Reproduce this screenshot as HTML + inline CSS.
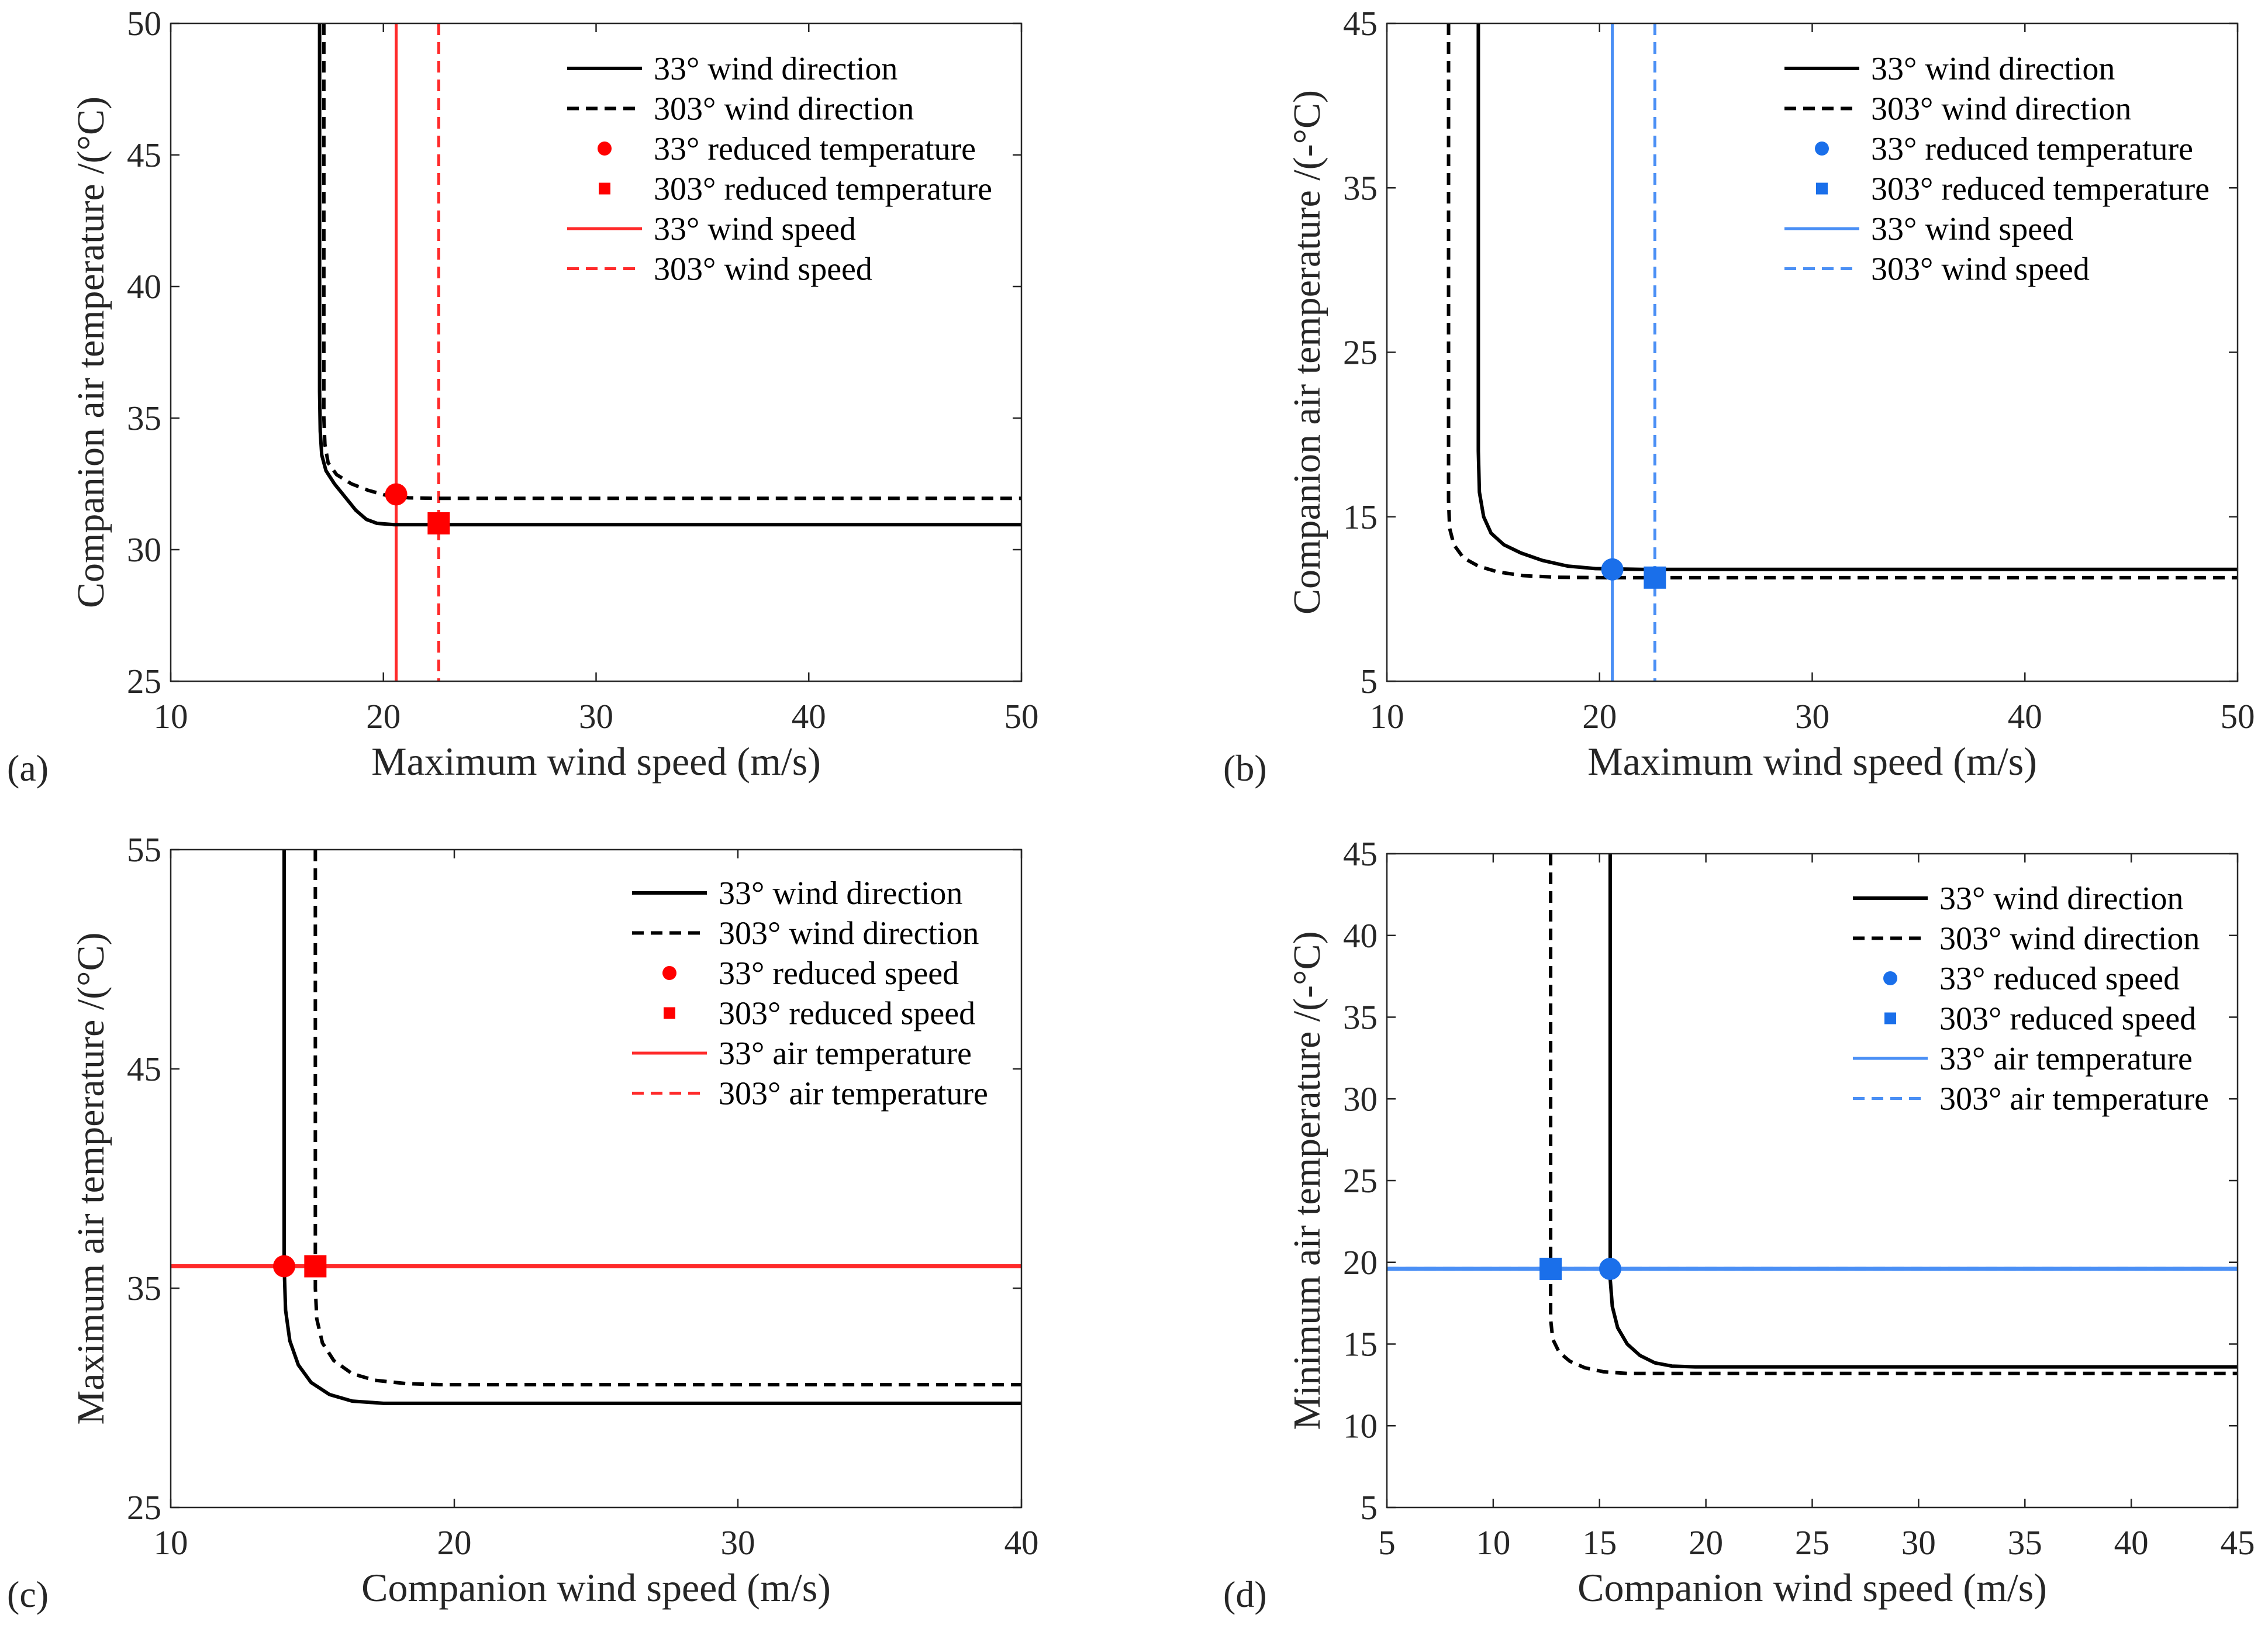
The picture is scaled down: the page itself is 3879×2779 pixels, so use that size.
<!DOCTYPE html>
<html><head><meta charset="utf-8"><style>
html,body{margin:0;padding:0;background:#fff;}
svg{display:block;font-family:"Liberation Serif","DejaVu Serif",serif;}
</style></head><body>
<svg id="fig" width="3879" height="2779" viewBox="0 0 3879 2779" xmlns="http://www.w3.org/2000/svg"></svg>
<script>
// ---- data ----
const aTicksX=[10,20,30,40,50], aTicksY=[25,30,35,40,45,50];
const a33=[[17.0,50],[17.0,36],[17.03,34.5],[17.1,33.6],[17.3,33.0],[17.7,32.5],[18.2,32.0],[18.7,31.5],[19.2,31.15],[19.7,31.0],[20.5,30.95],[50,30.95]];
const a303=[[17.2,50],[17.2,35],[17.25,34],[17.4,33.3],[17.8,32.85],[18.5,32.5],[19.3,32.25],[20.2,32.05],[21.2,31.97],[22.5,31.95],[50,31.95]];
const aRef=[20.6,22.6]; const aPts=[[20.6,32.1],[22.6,31.0]];
const bTicksX=[10,20,30,40,50], bTicksY=[5,15,25,35,45];
const b33=[[14.3,45],[14.3,19],[14.35,16.5],[14.55,15],[14.9,14],[15.5,13.3],[16.3,12.8],[17.3,12.35],[18.5,12.0],[19.8,11.85],[22,11.8],[50,11.8]];
const b303=[[12.9,45],[12.9,16],[12.95,14.3],[13.15,13.3],[13.6,12.5],[14.3,12.0],[15.2,11.65],[16.4,11.42],[18,11.32],[20,11.3],[50,11.3]];
const bRef=[20.6,22.6]; const bPts=[[20.6,11.8],[22.6,11.3]];
const cTicksX=[10,20,30,40], cTicksY=[25,35,45,55];
const c33=[[14.0,55],[14.0,36],[14.05,34],[14.2,32.6],[14.5,31.5],[14.95,30.7],[15.6,30.15],[16.4,29.85],[17.5,29.75],[40,29.75]];
const c303=[[15.1,55],[15.1,35],[15.15,33.6],[15.35,32.5],[15.75,31.7],[16.4,31.1],[17.2,30.8],[18.3,30.65],[19.5,30.6],[40,30.6]];
const cRef=[36.0,36.0]; const cPts=[[14.0,36.0],[15.1,36.0]];
const dTicksX=[5,10,15,20,25,30,35,40,45], dTicksY=[5,10,15,20,25,30,35,40,45];
const d33=[[15.5,45],[15.5,19],[15.6,17.3],[15.85,16.0],[16.3,15.0],[16.9,14.3],[17.6,13.85],[18.4,13.65],[19.5,13.6],[45,13.6]];
const d303=[[12.7,45],[12.7,16.5],[12.8,15.3],[13.1,14.5],[13.6,13.95],[14.3,13.55],[15.2,13.3],[16.3,13.2],[17.5,13.2],[45,13.2]];
const dRef=[19.6,19.6]; const dPts=[[15.5,19.6],[12.7,19.6]];

const NS="http://www.w3.org/2000/svg";
const svg=document.getElementById('fig');
function mk(tag,attrs,parent){const e=document.createElementNS(NS,tag);for(const k in attrs)e.setAttribute(k,attrs[k]);(parent||svg).appendChild(e);return e;}

function panel(o){
  const g=mk('g',{});
  
  
  const X=v=>o.L+(v-o.xr[0])/(o.xr[1]-o.xr[0])*(o.R-o.L);
  const Y=v=>o.B-(v-o.yr[0])/(o.yr[1]-o.yr[0])*(o.B-o.T);
  const cp=mk('clipPath',{id:'clip'+o.id},g);mk('rect',{x:o.L,y:o.T,width:o.R-o.L,height:o.B-o.T},cp);
  const plot=mk('g',{'clip-path':'url(#clip'+o.id+')'},g);
  const refs=o.vertical?o.ref.map(v=>[X(v),o.T,X(v),o.B]):o.ref.map(v=>[o.L,Y(v),o.R,Y(v)]);
  refs.forEach((r,i)=>{const l=mk('line',{x1:r[0],y1:r[1],x2:r[2],y2:r[3],stroke:o.lc,'stroke-width':o.vertical?5:7,'stroke-dasharray':i?'20 12':'none'},plot);
    
    });
  [[o.s33,'none'],[o.s303,'20 12']].forEach((s,i)=>{
    const p=mk('polyline',{points:s[0].map(q=>X(q[0])+','+Y(q[1])).join(' '),fill:'none',stroke:'#000','stroke-width':6,'stroke-dasharray':s[1],'stroke-linejoin':'round'},plot);
    
    
  });
  const c=mk('circle',{cx:X(o.pts[0][0]),cy:Y(o.pts[0][1]),r:19,fill:o.mc},g);
  
  
  const s=mk('rect',{x:X(o.pts[1][0])-19,y:Y(o.pts[1][1])-19,width:38,height:38,fill:o.mc},g);
  
  
  const box=mk('rect',{x:o.L,y:o.T,width:o.R-o.L,height:o.B-o.T,fill:'none',stroke:'#262626','stroke-width':2.5},g);
  
  
  o.tx.forEach(v=>{const x=X(v);
    mk('line',{x1:x,y1:o.B,x2:x,y2:o.B-15,stroke:'#262626','stroke-width':2.5},g);
    mk('line',{x1:x,y1:o.T,x2:x,y2:o.T+15,stroke:'#262626','stroke-width':2.5},g);
    const t=mk('text',{x:x,y:o.B+80,'font-size':59,'text-anchor':'middle',fill:'#262626'},g);t.textContent=v;
    
    });
  o.ty.forEach(v=>{const y=Y(v);
    mk('line',{x1:o.L,y1:y,x2:o.L+15,y2:y,stroke:'#262626','stroke-width':2.5},g);
    mk('line',{x1:o.R,y1:y,x2:o.R-15,y2:y,stroke:'#262626','stroke-width':2.5},g);
    const t=mk('text',{x:o.L-16,y:y+20,'font-size':59,'text-anchor':'end',fill:'#262626'},g);t.textContent=v;
    
    });
  const xt=mk('text',{x:(o.L+o.R)/2,y:o.B+160,'font-size':68,'text-anchor':'middle',fill:'#262626'},g);xt.textContent=o.xl;
  
  
  const yc=o.L-115,ym=(o.T+o.B)/2;
  const yt=mk('text',{x:yc,y:ym,'font-size':66,'text-anchor':'middle',transform:'rotate(-90 '+yc+' '+ym+')',fill:'#262626'},g);yt.textContent=o.yl;
  
  
  const pl=mk('text',{x:o.L-280,y:o.B+170,'font-size':64,fill:'#262626'},g);pl.textContent='('+o.id+')';
  
  
  const lg=mk('g',{},g);
  
  
  o.leg.forEach((txt,i)=>{
    const y=o.legY+i*68.5, x0=o.legX, x1=o.legX+128, xm=(x0+x1)/2;
    if(i<2) mk('line',{x1:x0,y1:y,x2:x1,y2:y,stroke:'#000','stroke-width':6,'stroke-dasharray':i?'20 12':'none'},lg);
    else if(i==2) mk('circle',{cx:xm,cy:y,r:12,fill:o.mc},lg);
    else if(i==3) mk('rect',{x:xm-10,y:y-10,width:20,height:20,fill:o.mc},lg);
    else mk('line',{x1:x0,y1:y,x2:x1,y2:y,stroke:o.lc,'stroke-width':5,'stroke-dasharray':i==5?'20 12':'none'},lg);
    const t=mk('text',{x:x1+20,y:y+19,'font-size':56,fill:'#000'},lg);t.textContent=txt;
    
    
  });
}
const red='#ff2a2a', redm='#ff0000', blue='#4a8ff5', bluem='#1a6fea';
const legT=['33° wind direction','303° wind direction','33° reduced temperature','303° reduced temperature','33° wind speed','303° wind speed'];
const legS=['33° wind direction','303° wind direction','33° reduced speed','303° reduced speed','33° air temperature','303° air temperature'];
panel({id:'a',L:292,R:1747,T:40,B:1165,xr:[10,50],yr:[25,50],tx:aTicksX,ty:aTicksY,s33:a33,s303:a303,ref:aRef,pts:aPts,vertical:true,lc:red,mc:redm,xl:'Maximum wind speed (m/s)',yl:'Companion air temperature /(°C)',leg:legT,legX:970,legY:117});
panel({id:'b',L:2372,R:3827,T:40,B:1165,xr:[10,50],yr:[5,45],tx:bTicksX,ty:bTicksY,s33:b33,s303:b303,ref:bRef,pts:bPts,vertical:true,lc:blue,mc:bluem,xl:'Maximum wind speed (m/s)',yl:'Companion air temperature /(-°C)',leg:legT,legX:3052,legY:117});
panel({id:'c',L:292,R:1747,T:1453,B:2578,xr:[10,40],yr:[25,55],tx:cTicksX,ty:cTicksY,s33:c33,s303:c303,ref:cRef,pts:cPts,vertical:false,lc:red,mc:redm,xl:'Companion wind speed (m/s)',yl:'Maximum air temperature /(°C)',leg:legS,legX:1081,legY:1527});
panel({id:'d',L:2372,R:3827,T:1460,B:2578,xr:[5,45],yr:[5,45],tx:dTicksX,ty:dTicksY,s33:d33,s303:d303,ref:dRef,pts:dPts,vertical:false,lc:blue,mc:bluem,xl:'Companion wind speed (m/s)',yl:'Minimum air temperature /(-°C)',leg:legS,legX:3169,legY:1536});
</script>
</body></html>
